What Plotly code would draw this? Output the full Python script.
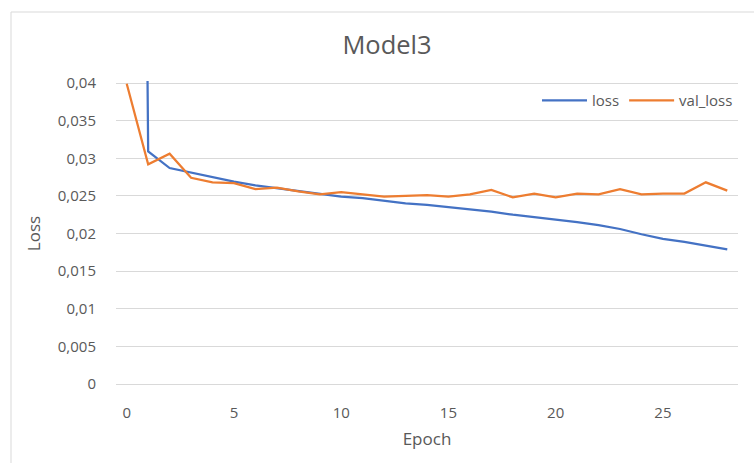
import plotly.graph_objects as go

epochs = list(range(29))
loss = [0.35, 0.0309, 0.0287, 0.0281, 0.0274, 0.0269, 0.0264, 0.0260, 0.0256, 0.0252,
        0.0249, 0.0247, 0.0243, 0.0240, 0.0238, 0.0235, 0.0232, 0.0229, 0.0225, 0.0222,
        0.0219, 0.0215, 0.0211, 0.0206, 0.0199, 0.0193, 0.0189, 0.0184, 0.0179]
val_loss = [0.0399, 0.0292, 0.0306, 0.0274, 0.0268, 0.0267, 0.0259, 0.0261, 0.0256, 0.0252,
            0.0255, 0.0252, 0.0249, 0.0250, 0.0251, 0.0249, 0.0252, 0.0258, 0.0248, 0.0253,
            0.0248, 0.0253, 0.0252, 0.0259, 0.0252, 0.0253, 0.0253, 0.0268, 0.0257]

FONT = "Open Sans"
GRAY = "#595959"
GRID = "#d9d9d9"

fig = go.Figure()
fig.add_trace(go.Scatter(x=epochs, y=loss, mode="lines", name="loss",
                         line=dict(color="#4472C4", width=2.25)))
fig.add_trace(go.Scatter(x=epochs, y=val_loss, mode="lines", name="val_loss",
                         line=dict(color="#ED7D31", width=2.25)))

W, H = 754, 463
L, R, T, B = 116, 16, 81, 77
pw, ph = W - L - R, H - T - B
PADPX = 2
pad = 0.04 / (ph - 2 * PADPX) * PADPX

fig.update_layout(
    width=W, height=H,
    margin=dict(l=L, r=R, t=T, b=B),
    paper_bgcolor="white", plot_bgcolor="white",
    separators=",.",
    font=dict(family=FONT, color=GRAY, size=15),
    title=dict(text="Model3", x=387 / W, xanchor="center", y=1 - 45 / H, yanchor="middle",
               font=dict(family=FONT, size=25.5, color=GRAY)),
    showlegend=True,
    legend=dict(orientation="h", x=1.0, xanchor="right", y=(H - B - 100.7) / ph, yanchor="middle",
                font=dict(family=FONT, size=15, color=GRAY), bgcolor="rgba(0,0,0,0)",
                itemwidth=45, tracegroupgap=0),
    xaxis=dict(range=[-0.5, 28.5], tick0=0, dtick=5, showgrid=False, zeroline=False,
               showline=False, ticks="outside", ticklen=13, tickcolor="rgba(0,0,0,0)",
               tickfont=dict(family=FONT, size=15, color=GRAY),
               title=dict(text="Epoch", standoff=12, font=dict(family=FONT, size=17, color=GRAY))),
    yaxis=dict(range=[-pad, 0.04 + pad], tick0=0, dtick=0.005, showgrid=True, gridcolor=GRID,
               gridwidth=1, zeroline=False, showline=False, ticks="outside", ticklen=16,
               tickcolor="rgba(0,0,0,0)",
               tickfont=dict(family=FONT, size=15, color=GRAY),
               title=dict(text="Loss", standoff=12, font=dict(family=FONT, size=17, color=GRAY))),
    shapes=[dict(type="rect", xref="paper", yref="paper",
                 x0=(11 - L) / pw, x1=(W + 20 - L) / pw,
                 y0=-(B + 20) / ph, y1=(H - B - 12) / ph,
                 line=dict(color=GRID, width=1), fillcolor="rgba(0,0,0,0)", layer="below")],
)

fig.write_html("out.html")
